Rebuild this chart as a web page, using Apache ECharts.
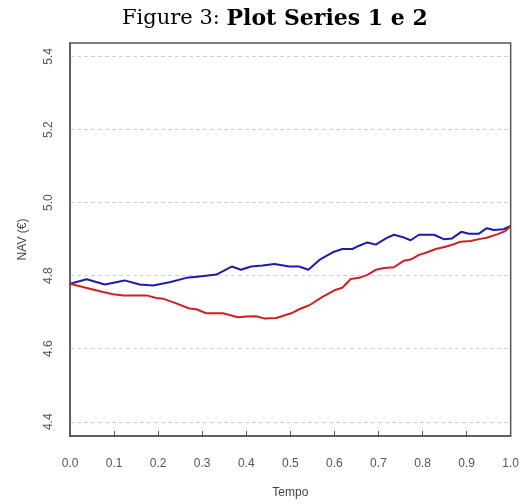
<!DOCTYPE html>
<html>
<head>
<meta charset="utf-8">
<script src="https://cdn.jsdelivr.net/npm/echarts@6/dist/echarts.min.js"></script>
<style>
  html, body { margin: 0; padding: 0; background: #fff; }
  #chart { width: 522px; height: 504px; }
</style>
</head>
<body>
<div id="chart"></div>
<script>
// Series 1 (blue): time and NAV
var tempo1 = [0.000, 0.038, 0.079, 0.124, 0.158, 0.188, 0.226, 0.264, 0.294, 0.332,
              0.367, 0.388, 0.411, 0.437, 0.464, 0.498, 0.520, 0.541, 0.566, 0.596,
              0.618, 0.641, 0.656, 0.675, 0.694, 0.717, 0.735, 0.754, 0.773, 0.792,
              0.826, 0.848, 0.867, 0.888, 0.905, 0.928, 0.946, 0.962, 0.984, 1.000];
var nav1 = [4.778, 4.790, 4.776, 4.787, 4.776, 4.773, 4.782, 4.794, 4.798, 4.803,
            4.825, 4.816, 4.825, 4.828, 4.832, 4.825, 4.825, 4.816, 4.843, 4.864,
            4.873, 4.873, 4.882, 4.891, 4.885, 4.902, 4.912, 4.906, 4.897, 4.912,
            4.912, 4.900, 4.902, 4.920, 4.915, 4.915, 4.930, 4.925, 4.927, 4.936];

// Series 2 (red): time and NAV
var tempo2 = [0.000, 0.045, 0.075, 0.098, 0.121, 0.174, 0.196, 0.211, 0.241, 0.271,
              0.287, 0.309, 0.347, 0.381, 0.400, 0.422, 0.441, 0.468, 0.502, 0.520,
              0.543, 0.573, 0.600, 0.618, 0.637, 0.656, 0.675, 0.694, 0.713, 0.735,
              0.758, 0.773, 0.792, 0.811, 0.830, 0.852, 0.871, 0.886, 0.909, 0.928,
              0.946, 0.969, 0.988, 1.000];
var nav2 = [4.778, 4.764, 4.755, 4.749, 4.746, 4.746, 4.739, 4.737, 4.724, 4.710,
            4.708, 4.697, 4.697, 4.686, 4.688, 4.689, 4.683, 4.684, 4.697, 4.708,
            4.719, 4.742, 4.760, 4.767, 4.791, 4.794, 4.802, 4.816, 4.821, 4.823,
            4.841, 4.844, 4.857, 4.864, 4.873, 4.879, 4.886, 4.893, 4.895, 4.900,
            4.904, 4.913, 4.922, 4.936];

// Axis tick labels
var yTicks = [4.4, 4.6, 4.8, 5.0, 5.2, 5.4];
var xTicks = [0.0, 0.1, 0.2, 0.3, 0.4, 0.5, 0.6, 0.7, 0.8, 0.9, 1.0];

function pairs(xs, ys) {
  return xs.map(function (x, i) { return [x, ys[i]]; });
}

var chart = echarts.init(document.getElementById('chart'), null, { renderer: 'canvas' });

chart.setOption({
  animation: false,
  backgroundColor: '#ffffff',
  title: {
    text: '{n|Figure 3: }{b|Plot Series 1 e 2}',
    left: 122,
    top: 8,
    padding: 0,
    textStyle: {
      rich: {
        n: { fontFamily: 'DejaVu Serif', fontSize: 21, fontWeight: 'normal', color: '#000' },
        b: { fontFamily: 'DejaVu Serif', fontSize: 22, fontWeight: 'bold', color: '#000' }
      }
    }
  },
  grid: {
    left: 70, right: 9, top: 43, bottom: 64,
    show: true,
    borderColor: '#555',
    borderWidth: 1.5,
    containLabel: false
  },
  xAxis: {
    type: 'value',
    min: 0, max: 1, interval: 0.1,
    name: 'Tempo',
    nameLocation: 'middle',
    nameGap: 51,
    nameTextStyle: { fontFamily: 'Liberation Sans', fontSize: 12, color: '#444' },
    axisLine: { show: true, lineStyle: { color: '#555', width: 1.5 } },
    axisTick: { show: true, inside: true, length: 5, lineStyle: { color: '#555' } },
    axisLabel: {
      margin: 22,
      fontFamily: 'Liberation Sans', fontSize: 12, color: '#555',
      customValues: xTicks,
      formatter: function (v) { return v.toFixed(1); }
    },
    splitLine: { show: false }
  },
  yAxis: {
    type: 'value',
    min: 4.361, max: 5.437,
    name: 'NAV (€)',
    nameLocation: 'middle',
    nameGap: 41,
    nameRotate: 90,
    nameTextStyle: { fontFamily: 'Liberation Sans', fontSize: 12, color: '#444' },
    axisLine: { show: true, lineStyle: { color: '#555', width: 1.5 } },
    axisTick: { show: false, customValues: yTicks },
    axisLabel: {
      rotate: 90,
      margin: 15,
      fontFamily: 'Liberation Sans', fontSize: 12, color: '#555',
      customValues: yTicks,
      formatter: function (v) { return v.toFixed(1); }
    },
    splitLine: { show: true, lineStyle: { color: '#d0d0d0', type: [4, 3], width: 1 } }
  },
  series: [
    {
      name: 'Series 1',
      type: 'line',
      data: pairs(tempo1, nav1),
      showSymbol: false,
      lineStyle: { color: '#1c1ca8', width: 2 },
      itemStyle: { color: '#1c1ca8' }
    },
    {
      name: 'Series 2',
      type: 'line',
      data: pairs(tempo2, nav2),
      showSymbol: false,
      lineStyle: { color: '#cc2222', width: 2 },
      itemStyle: { color: '#cc2222' }
    }
  ]
});
</script>
</body>
</html>
